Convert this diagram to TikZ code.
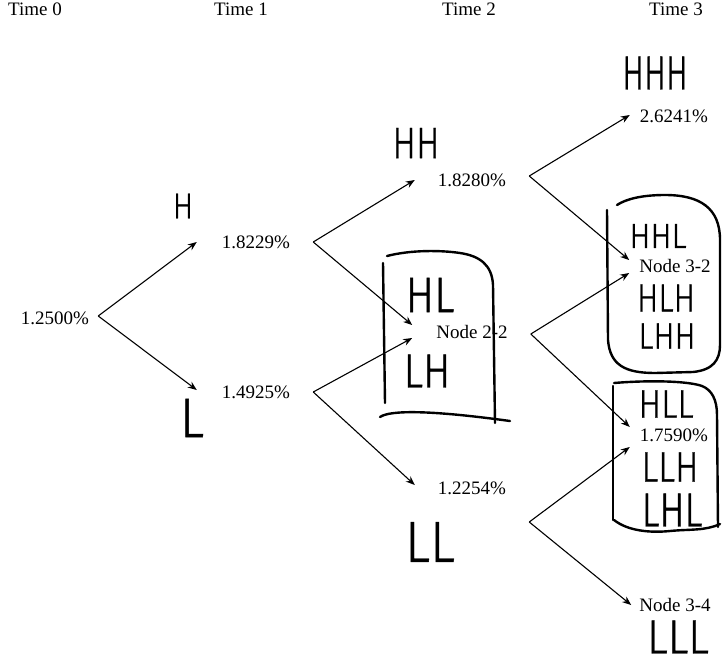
\documentclass[tikz,border=0pt]{standalone}
\usepackage{fontspec}
\setmainfont{Liberation Serif}
\newfontfamily\handfont[FakeBold=0.8]{Fira Sans Light}
\usetikzlibrary{arrows.meta}
\tikzset{
  val/.style={font=\fontsize{19}{22}\selectfont, inner sep=0pt},
  hand/.style={font=\handfont\fontsize{#1}{#1}\selectfont, inner sep=0pt},
  arr/.style={-{Stealth[length=9pt,width=7pt]}, line width=1.1pt},
  hbox/.style={line width=2.4pt, line cap=round, line join=round}
}
\begin{document}
\begin{tikzpicture}[x=1pt,y=-1pt]
\useasboundingbox[fill=white] (0,0) rectangle (723,662);
% time labels
\node[val,anchor=base] (t0) at (35,15) {Time 0};
\node[val,anchor=base] (t1) at (241,15) {Time 1};
\node[val,anchor=base] (t2) at (469,15) {Time 2};
\node[val,anchor=base] (t3) at (676,15) {Time 3};
% values
\node[val] (n0) at (55,318) {1.2500\%};
\node[val] (n11) at (256,242) {1.8229\%};
\node[val] (n12) at (256,392) {1.4925\%};
\node[val] (n21) at (472,180) {1.8280\%};
\node[val] (n22) at (472,332) {Node 2-2};
\node[val] (n23) at (472,488) {1.2254\%};
\node[val] (n31) at (674,116) {2.6241\%};
\node[val] (n32) at (675,266) {Node 3-2};
\node[val] (n33) at (674,435) {1.7590\%};
\node[val] (n34) at (675,605) {Node 3-4};
% branch points
\coordinate (b0) at ([xshift=9pt,yshift=2pt]n0.east);
\coordinate (b11) at ([xshift=23pt]n11.east);
\coordinate (b12) at ([xshift=23pt]n12.east);
\coordinate (b21) at ([xshift=23pt,yshift=4pt]n21.east);
\coordinate (b22) at ([xshift=23pt,yshift=-2pt]n22.east);
\coordinate (b23) at ([xshift=23pt,yshift=-34pt]n23.east);
% arrows
\draw[arr] (b0) -- ([xshift=-25pt]n11.west);
\draw[arr] (b0) -- ([xshift=-25pt,yshift=2pt]n12.west);
\draw[arr] (b11) -- ([xshift=-23pt]n21.west);
\draw[arr] (b11) -- ([xshift=-24pt,yshift=7pt]n22.west);
\draw[arr] (b12) -- ([xshift=-24pt,yshift=-6pt]n22.west);
\draw[arr] (b12) -- ([xshift=-23pt,yshift=3pt]n23.west);
\draw[arr] (b21) -- ([xshift=-10pt,yshift=1pt]n31.west);
\draw[arr] (b21) -- ([xshift=-10pt,yshift=6pt]n32.west);
\draw[arr] (b22) -- ([xshift=-10pt,yshift=-7pt]n32.west);
\draw[arr] (b22) -- ([xshift=-10pt,yshift=8pt]n33.west);
\draw[arr] (b23) -- ([xshift=-10pt,yshift=-12pt]n33.west);
\draw[arr] (b23) -- ([xshift=-8pt]n34.west);
% handwritten labels
\node[hand=36] (hH) at (183,206) {\scalebox{0.85}[1]{H}};
\node[hand=56] (hL) at (192,418) {\scalebox{0.9}[1]{L}};
\node[hand=44] (hHH) at (416,143) {\scalebox{0.8}[1]{HH}};
\node[hand=50] (hHL) at (430,295) {\scalebox{0.85}[1]{HL}};
\node[hand=48] (hLH) at (427,371) {\scalebox{0.85}[1]{LH}};
\node[hand=58] (hLL) at (430,542) {\scalebox{0.9}[1]{LL}};
\node[hand=48] (hHHH) at (655,73) {\scalebox{0.68}[1]{HHH}};
\node[hand=35] (hHHL) at (658,236) {\scalebox{0.9}[1]{HHL}};
\node[hand=39] (hHLH) at (666,298) {\scalebox{0.82}[1]{HLH}};
\node[hand=37] (hLHH) at (667,336) {\scalebox{0.85}[1]{LHH}};
\node[hand=40] (hHLL) at (666,404) {\scalebox{0.85}[1]{HLL}};
\node[hand=43] (hLLH) at (670,467) {\scalebox{0.82}[1]{LLH}};
\node[hand=48] (hLHL) at (672,510) {\scalebox{0.78}[1]{LHL}};
\node[hand=48] (hLLL) at (678,637) {\scalebox{0.9}[1]{LLL}};
% hand-drawn boxes
% box round node 2-2
\draw[hbox] (383,263) -- (385,403);
\draw[hbox] (387,256) .. controls (410,250) and (440,250) .. (460,253)
  .. controls (480,256) and (492,265) .. (493,285) -- (495,423);
\draw[hbox] (380,417) .. controls (390,410) and (430,410) .. (510,421);
% box round node 3-2
\draw[hbox] (607,210) -- (608,340) .. controls (610,365) and (625,373) .. (655,373)
  -- (693,372) .. controls (713,370) and (720,360) .. (720,345) -- (720,240)
  .. controls (720,208) and (700,195) .. (665,195) .. controls (642,195) and (626,199) .. (617,205);
% box round 1.7590%
\draw[hbox] (613,386) -- (613,520);
\draw[hbox] (614,383) .. controls (650,380) and (688,381) .. (702,386)
  .. controls (712,390) and (717,400) .. (717,415) -- (718,527);
\draw[hbox] (614,520) .. controls (628,531) and (650,533) .. (670,531)
  .. controls (690,529) and (705,531) .. (720,524);
\end{tikzpicture}
\end{document}
